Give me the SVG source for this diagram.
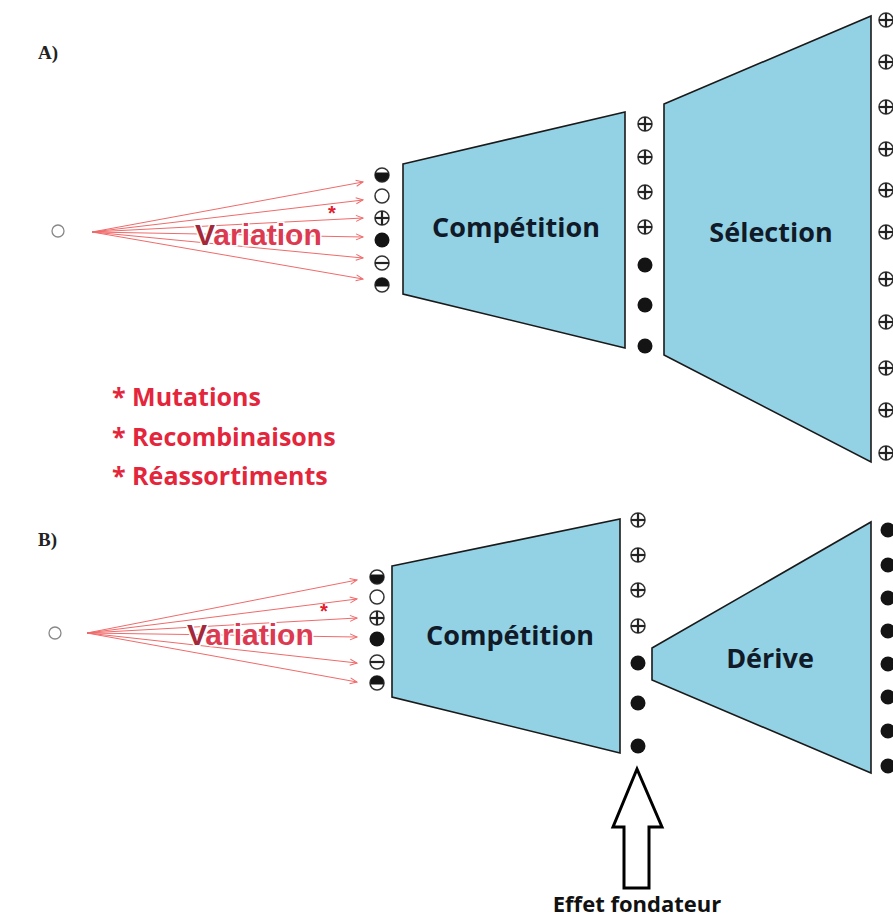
<svg xmlns="http://www.w3.org/2000/svg" width="893" height="918" viewBox="0 0 893 918">
<defs>
<style>
.trap{fill:#93d2e5;stroke:#1a1a1a;stroke-width:1.6}
.lbl{font-family:"Open Sans",sans-serif;font-weight:bold;font-size:27px;fill:#101a28;text-anchor:middle}
.sec{font-family:"Liberation Serif",serif;font-weight:bold;font-size:19px;fill:#222}
.red{font-family:"Open Sans",sans-serif;font-weight:bold;font-size:25px;fill:#e3263c}
.fan{stroke:#f06a6a;stroke-width:1;fill:none;marker-end:url(#ah)}
.var{font-family:"Liberation Sans",sans-serif;font-weight:bold;font-size:30px;fill:#dc3a50;stroke:#fff;stroke-width:3;paint-order:stroke}
.vv{fill:#a3283a}
.ast{font-family:"Liberation Sans",sans-serif;font-weight:bold;font-size:20px;fill:#e02030}
.wc{fill:#fff;stroke:#333;stroke-width:1.5}
.bk{fill:#141414}
.crs{stroke:#222;stroke-width:2.2}
</style>
<marker id="ah" markerWidth="10" markerHeight="10" refX="8" refY="4" orient="auto" markerUnits="userSpaceOnUse">
<polyline points="1,1 8,4 1,7" fill="none" stroke="#f06a6a" stroke-width="1"/>
</marker>
<g id="plus"><circle r="7" class="wc"/><line x1="-7" y1="0" x2="7" y2="0" class="crs"/><line x1="0" y1="-7" x2="0" y2="7" class="crs"/></g>
<g id="minus"><circle r="7" class="wc"/><line x1="-7" y1="0" x2="7" y2="0" class="crs"/></g>
<g id="dot"><circle r="7.5" class="bk"/></g>
<g id="open"><circle r="7" class="wc"/></g>
<g id="hb"><circle r="7" class="wc"/><path d="M-6.6,-2.5 A7,7 0 1 0 6.6,-2.5 Z" class="bk"/></g>
<g id="ht"><circle r="7" class="wc"/><path d="M-6.8,1.5 A7,7 0 1 1 6.8,1.5 Z" class="bk"/></g>
</defs>
<rect width="893" height="918" fill="#fff"/>

<text class="sec" x="38" y="59">A)</text>
<text class="sec" x="38" y="546">B)</text>

<g id="connectors">
<path class="fan" d="M92,232 L363,182"/>
<path class="fan" d="M92,232 L363,200"/>
<path class="fan" d="M92,232 L363,218"/>
<path class="fan" d="M92,232 L363,237"/>
<path class="fan" d="M92,232 L363,258"/>
<path class="fan" d="M92,232 L363,279"/>
<path class="fan" d="M87,633 L357,580"/>
<path class="fan" d="M87,633 L357,599"/>
<path class="fan" d="M87,633 L357,618"/>
<path class="fan" d="M87,633 L357,637"/>
<path class="fan" d="M87,633 L357,663"/>
<path class="fan" d="M87,633 L357,682"/>
</g>

<g id="origin-a"><circle cx="58" cy="231" r="6" fill="#fff" stroke="#888" stroke-width="1.3"/></g>
<g id="origin-b"><circle cx="55" cy="633" r="6" fill="#fff" stroke="#888" stroke-width="1.3"/></g>

<g id="variation-a">
<text class="var" x="195" y="245"><tspan class="vv">V</tspan>ariation</text>
<text class="ast" x="328" y="220">*</text>
</g>
<g id="variation-b">
<text class="var" x="187" y="645"><tspan class="vv">V</tspan>ariation</text>
<text class="ast" x="320" y="618">*</text>
</g>

<g id="variants-a">
<use href="#hb" x="382" y="175"/>
<use href="#open" x="382" y="196"/>
<use href="#plus" x="382" y="218"/>
<use href="#dot" x="382" y="240"/>
<use href="#minus" x="382" y="263"/>
<use href="#ht" x="382" y="285"/>
</g>
<g id="variants-b">
<use href="#hb" x="377" y="577"/>
<use href="#open" x="377" y="597"/>
<use href="#plus" x="377" y="618"/>
<use href="#dot" x="377" y="639"/>
<use href="#minus" x="377" y="662"/>
<use href="#ht" x="377" y="683"/>
</g>

<g id="competition-a">
<polygon class="trap" points="403,164 625,112 625,348 403,294"/>
<text class="lbl" x="516" y="237">Compétition</text>
</g>
<g id="survivors-a">
<use href="#plus" x="645" y="124"/>
<use href="#plus" x="645" y="157"/>
<use href="#plus" x="645" y="192"/>
<use href="#plus" x="645" y="227"/>
<use href="#dot" x="645" y="265"/>
<use href="#dot" x="645" y="305"/>
<use href="#dot" x="645" y="346"/>
</g>
<g id="selection-a">
<polygon class="trap" points="664,104 871,16 871,462 664,355"/>
<text class="lbl" x="771" y="242">Sélection</text>
</g>
<g id="result-a">
<use href="#plus" x="886" y="20"/>
<use href="#plus" x="886" y="62"/>
<use href="#plus" x="886" y="107"/>
<use href="#plus" x="886" y="149"/>
<use href="#plus" x="886" y="190"/>
<use href="#plus" x="886" y="232"/>
<use href="#plus" x="886" y="279"/>
<use href="#plus" x="886" y="322"/>
<use href="#plus" x="886" y="368"/>
<use href="#plus" x="886" y="410"/>
<use href="#plus" x="886" y="453"/>
</g>

<g id="sources">
<text class="red" x="112" y="406">* Mutations</text>
<text class="red" x="112" y="446">* Recombinaisons</text>
<text class="red" x="112" y="485">* Réassortiments</text>
</g>

<g id="competition-b">
<polygon class="trap" points="392,566 620,519 620,753 392,697"/>
<text class="lbl" x="510" y="645">Compétition</text>
</g>
<g id="survivors-b">
<use href="#plus" x="638" y="520"/>
<use href="#plus" x="638" y="555"/>
<use href="#plus" x="638" y="590"/>
<use href="#plus" x="638" y="626"/>
<use href="#dot" x="638" y="663"/>
<use href="#dot" x="638" y="703"/>
<use href="#dot" x="638" y="746"/>
</g>
<g id="derive-b">
<polygon class="trap" points="652,648 871,522 871,773 652,680"/>
<text class="lbl" x="770" y="668">Dérive</text>
</g>
<g id="result-b">
<use href="#dot" x="888" y="530"/>
<use href="#dot" x="888" y="565"/>
<use href="#dot" x="888" y="598"/>
<use href="#dot" x="888" y="631"/>
<use href="#dot" x="888" y="664"/>
<use href="#dot" x="888" y="697"/>
<use href="#dot" x="888" y="731"/>
<use href="#dot" x="888" y="766"/>
</g>

<g id="effet-fondateur">
<polygon points="637,769 613,827 624,827 624,888 649,888 649,827 662,827" fill="#fff" stroke="#000" stroke-width="3" stroke-linejoin="miter"/>
<text x="637" y="912" font-family="Open Sans, sans-serif" font-weight="bold" font-size="22" fill="#111" text-anchor="middle">Effet fondateur</text>
</g>
</svg>
